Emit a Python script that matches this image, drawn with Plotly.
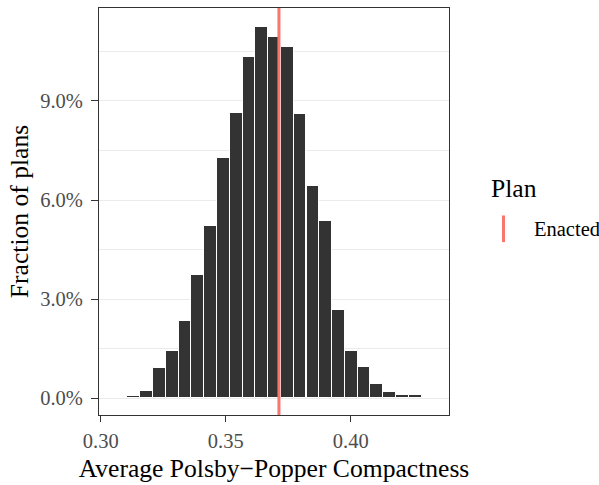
import plotly.graph_objects as go

# Histogram of the average Polsby-Popper compactness across simulated plans
bin_centers = [0.3081, 0.3132, 0.3184, 0.3235, 0.3286, 0.3337, 0.3388, 0.3439,
               0.3491, 0.3542, 0.3593, 0.3644, 0.3695, 0.3746, 0.3797, 0.3849,
               0.3900, 0.3951, 0.4002, 0.4053, 0.4104, 0.4156, 0.4207, 0.4258,
               0.4309]
fractions = [0.0000, 0.0006, 0.0022, 0.0090, 0.0144, 0.0233, 0.0373, 0.0520,
             0.0727, 0.0865, 0.1033, 0.1124, 0.1094, 0.1065, 0.0862, 0.0642,
             0.0537, 0.0267, 0.0144, 0.0094, 0.0044, 0.0020, 0.0009, 0.0011,
             0.0000]
bin_width = 0.005116
enacted_value = 0.3713

x_ticks = [0.30, 0.35, 0.40]
x_tick_labels = ["0.30", "0.35", "0.40"]
y_ticks = [0.0, 0.03, 0.06, 0.09]
y_tick_labels = ["0.0%", "3.0%", "6.0%", "9.0%"]

FONT = "Liberation Serif"
RED = "#F8766D"

fig = go.Figure()
fig.add_trace(go.Bar(
    x=bin_centers, y=fractions, width=bin_width,
    marker=dict(color="#333333", line=dict(color="white", width=1)),
    showlegend=False, hoverinfo="x+y",
))

# Enacted plan marker
fig.add_shape(type="line", xref="x", yref="y domain",
              x0=enacted_value, x1=enacted_value, y0=0, y1=1,
              line=dict(color=RED, width=3), layer="above")

fig.update_layout(
    width=599, height=485,
    margin=dict(l=99, r=150, t=7, b=66),
    paper_bgcolor="white", plot_bgcolor="white",
    bargap=0,
    showlegend=False,
    font=dict(family=FONT, color="#4D4D4D"),
)
fig.update_xaxes(
    range=[0.29932, 0.43932],
    tickvals=x_ticks, ticktext=x_tick_labels,
    ticks="outside", ticklen=6, tickcolor="#333333", tickwidth=1,
    tickfont=dict(size=20.5, color="#4D4D4D", family=FONT),
    ticklabelstandoff=1,
    showgrid=False, zeroline=False,
    showline=True, linecolor="#333333", linewidth=1, mirror=True,
    title=dict(text="Average Polsby\u2212Popper Compactness",
               font=dict(size=25.6, color="black", family=FONT), standoff=8),
)
fig.update_yaxes(
    range=[-0.005085, 0.11816],
    tickvals=y_ticks, ticktext=y_tick_labels,
    ticks="outside", ticklen=7, tickcolor="#333333", tickwidth=1,
    tickfont=dict(size=20.5, color="#4D4D4D", family=FONT),
    ticklabelstandoff=4,
    showgrid=True, gridcolor="#EBEBEB", gridwidth=1.2,
    minor=dict(tickvals=[0.015, 0.045, 0.075, 0.105], showgrid=True,
               gridcolor="#EBEBEB", gridwidth=0.6, ticks=""),
    zeroline=False,
    showline=True, linecolor="#333333", linewidth=1, mirror=True,
    title=dict(text="Fraction of plans",
               font=dict(size=25.6, color="black", family=FONT), standoff=4),
)

# Legend: title, vertical key line and label
fig.add_annotation(text="Plan", xref="paper", yref="paper",
                   x=(489 - 99) / 350, y=1 - (190 - 7) / 412,
                   xanchor="left", yanchor="middle", showarrow=False,
                   font=dict(size=25.6, color="black", family=FONT))
fig.add_shape(type="line", xref="paper", yref="paper",
              x0=(503.5 - 99) / 350, x1=(503.5 - 99) / 350,
              y0=1 - (217 - 7) / 412, y1=1 - (244 - 7) / 412,
              line=dict(color=RED, width=3))
fig.add_annotation(text="Enacted", xref="paper", yref="paper",
                   x=(531.5 - 99) / 350, y=1 - (231 - 7) / 412,
                   xanchor="left", yanchor="middle", showarrow=False,
                   font=dict(size=20.5, color="black", family=FONT))

fig.write_html("out.html")
